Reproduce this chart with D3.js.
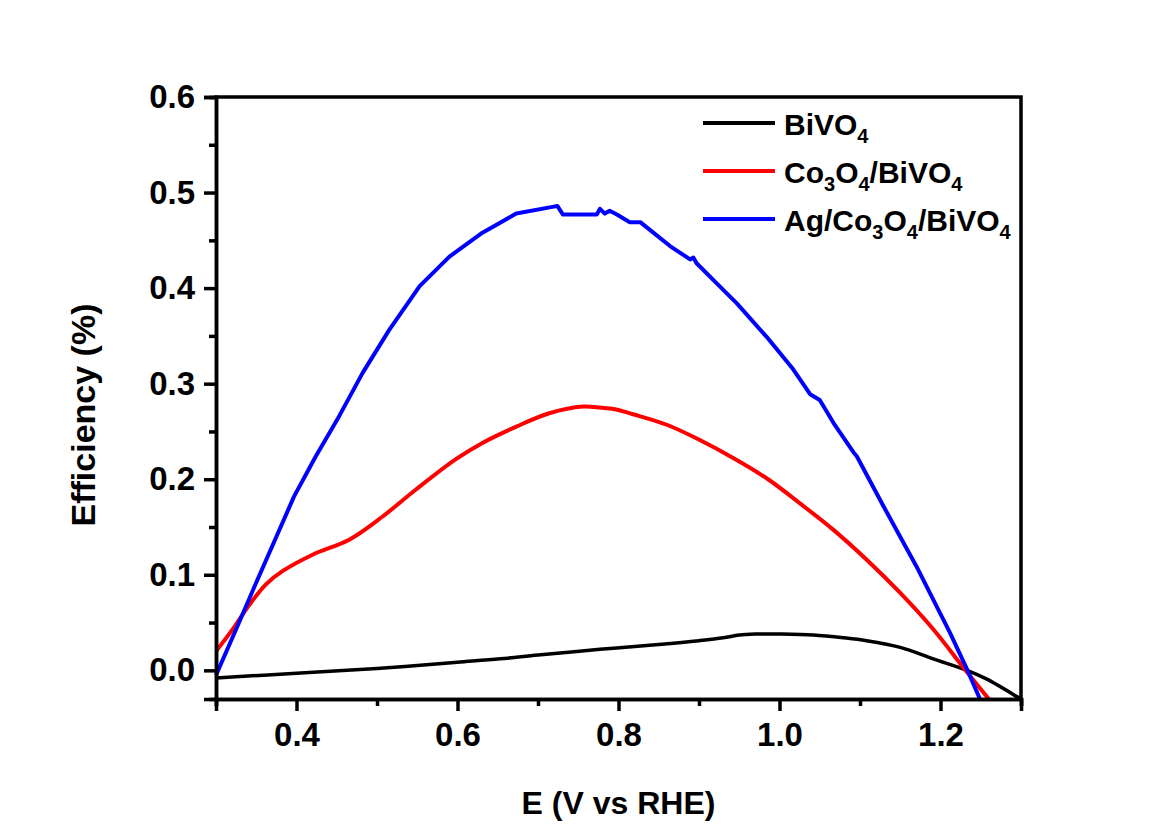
<!DOCTYPE html>
<html>
<head>
<meta charset="utf-8">
<script src="https://cdn.jsdelivr.net/npm/d3@7"></script>
<style>
  body { margin: 0; background: #fff; }
  svg text { font-family: "Liberation Sans", Arial, sans-serif; font-weight: bold; fill: #000; }
</style>
</head>
<body>
<div id="chart"></div>
<script>
// series names (digits after letters are drawn as subscripts)
const seriesNames = ["BiVO4", "Co3O4/BiVO4", "Ag/Co3O4/BiVO4"];
const seriesColors = ["#000000", "#ff0000", "#0000ff"];

// [E, efficiency]
const bivo4 = [
    [0.30, -0.008], [0.40, -0.003], [0.50, 0.002], [0.60, 0.0085], [0.653, 0.012],
    [0.70, 0.016], [0.777, 0.022], [0.85, 0.027], [0.90, 0.031], [0.93, 0.034],
    [0.95, 0.037], [0.97, 0.038], [1.00, 0.038], [1.042, 0.037], [1.08, 0.034], [1.108, 0.031],
    [1.15, 0.024], [1.191, 0.012], [1.233, 0.0], [1.257, -0.009], [1.296, -0.028], [1.30, -0.03]
];
const co3o4 = [
    [0.30, 0.020], [0.319, 0.041], [0.341, 0.068], [0.362, 0.090], [0.383, 0.104], [0.420, 0.121],
    [0.466, 0.137], [0.507, 0.161], [0.548, 0.189], [0.598, 0.221], [0.631, 0.238],
    [0.673, 0.255], [0.714, 0.269], [0.756, 0.276], [0.777, 0.275], [0.797, 0.273],
    [0.818, 0.268], [0.860, 0.257], [0.901, 0.241], [0.943, 0.222], [0.984, 0.201],
    [1.025, 0.175], [1.067, 0.147], [1.108, 0.116], [1.150, 0.081], [1.191, 0.043],
    [1.233, -0.002], [1.260, -0.03]
];
const agCo3o4 = [
    [0.30, -0.005], [0.325, 0.043], [0.350, 0.092], [0.397, 0.182], [0.424, 0.224],
    [0.453, 0.266], [0.482, 0.311], [0.515, 0.356], [0.553, 0.402], [0.590, 0.433],
    [0.631, 0.458], [0.673, 0.478], [0.718, 0.485], [0.724, 0.486], [0.731, 0.477],
    [0.773, 0.477], [0.777, 0.483], [0.783, 0.478], [0.789, 0.481], [0.798, 0.477],
    [0.814, 0.469], [0.827, 0.469], [0.839, 0.461], [0.864, 0.444], [0.889, 0.430],
    [0.893, 0.432], [0.897, 0.426], [0.922, 0.405], [0.947, 0.384], [0.984, 0.349],
    [1.017, 0.315], [1.038, 0.289], [1.050, 0.283], [1.067, 0.259], [1.092, 0.228],
    [1.096, 0.224], [1.129, 0.172], [1.170, 0.109], [1.212, 0.039], [1.233, 0.001], [1.249, -0.03]
];

const xTicks = [0.4, 0.6, 0.8, 1.0, 1.2];
const xMinor = [0.3, 0.5, 0.7, 0.9, 1.1, 1.3];
const yTicks = [0.0, 0.1, 0.2, 0.3, 0.4, 0.5, 0.6];
const yMinor = [0.05, 0.15, 0.25, 0.35, 0.45, 0.55];

const width = 1176, height = 832;
const margin = {left: 216, right: 155, top: 97, bottom: 133};

const svg = d3.select("#chart").append("svg")
    .attr("width", width)
    .attr("height", height);

svg.append("rect").attr("width", width).attr("height", height).attr("fill", "#fff");

const x = d3.scaleLinear().domain([0.3, 1.3]).range([margin.left, width - margin.right]);
const y = d3.scaleLinear().domain([-0.03, 0.6]).range([height - margin.bottom, margin.top]);

// curves
const line = d3.line().x(d => x(d[0])).y(d => y(d[1]));
const smooth = d3.line().x(d => x(d[0])).y(d => y(d[1])).curve(d3.curveCatmullRom);

const plot = svg.append("g");
plot.append("path").datum(bivo4)
    .attr("d", smooth).attr("fill", "none")
    .attr("stroke", seriesColors[0]).attr("stroke-width", 3.5);
plot.append("path").datum(co3o4)
    .attr("d", smooth).attr("fill", "none")
    .attr("stroke", seriesColors[1]).attr("stroke-width", 4);
plot.append("path").datum(agCo3o4)
    .attr("d", line).attr("fill", "none")
    .attr("stroke", seriesColors[2]).attr("stroke-width", 4)
    .attr("stroke-linejoin", "round");

// axes
svg.append("g")
    .attr("transform", `translate(0,${y.range()[0]})`)
    .call(d3.axisBottom(x).tickValues(xTicks).tickSize(12).tickPadding(12).tickFormat(d3.format(".1f")));
svg.append("g")
    .attr("transform", `translate(0,${y.range()[0]})`)
    .call(d3.axisBottom(x).tickValues(xMinor).tickSize(7).tickFormat(""));

svg.append("g")
    .attr("transform", `translate(${x.range()[0]},0)`)
    .call(d3.axisLeft(y).tickValues(yTicks).tickSize(12).tickPadding(9).tickFormat(d3.format(".1f")));
svg.append("g")
    .attr("transform", `translate(${x.range()[0]},0)`)
    .call(d3.axisLeft(y).tickValues(yMinor).tickSize(7).tickFormat(""));

svg.selectAll(".domain").attr("stroke", "#000").attr("stroke-width", 3.5);
svg.selectAll(".tick line").attr("stroke", "#000").attr("stroke-width", 3.5);
svg.selectAll(".tick text").attr("font-size", 33).attr("font-weight", "bold")
    .attr("font-family", "Liberation Sans, Arial, sans-serif");

// frame: top and right
svg.append("path")
    .attr("d", `M${x.range()[0]},${y.range()[1]}H${x.range()[1]}V${y.range()[0]}`)
    .attr("fill", "none").attr("stroke", "#000").attr("stroke-width", 3.5)
    .attr("stroke-linecap", "square");

// axis titles
svg.append("text")
    .attr("x", (x.range()[0] + x.range()[1]) / 2)
    .attr("y", 814)
    .attr("text-anchor", "middle")
    .attr("font-size", 32)
    .text("E (V vs RHE)");

svg.append("text")
    .attr("transform", `translate(95,${(y.range()[0] + y.range()[1]) / 2 + 17}) rotate(-90)`)
    .attr("text-anchor", "middle")
    .attr("font-size", 34)
    .text("Efficiency (%)");

// legend
const legend = svg.append("g").attr("transform", "translate(703,123)");
seriesNames.forEach((name, i) => {
    const row = legend.append("g").attr("transform", `translate(0,${i * 48})`);
    row.append("line")
        .attr("x1", 0).attr("x2", 72).attr("y1", 0).attr("y2", 0)
        .attr("stroke", seriesColors[i]).attr("stroke-width", 4);
    const t = row.append("text").attr("x", 81).attr("y", 12).attr("font-size", 30);
    const parts = name.match(/[0-9]+|[^0-9]+/g);
    let sub = false;
    parts.forEach(p => {
        const isNum = /^[0-9]+$/.test(p);
        const ts = t.append("tspan").text(p);
        if (isNum) {
            ts.attr("font-size", 20).attr("dy", 8);
            sub = true;
        } else if (sub) {
            ts.attr("dy", -8);
            sub = false;
        }
    });
});
</script>
</body>
</html>
